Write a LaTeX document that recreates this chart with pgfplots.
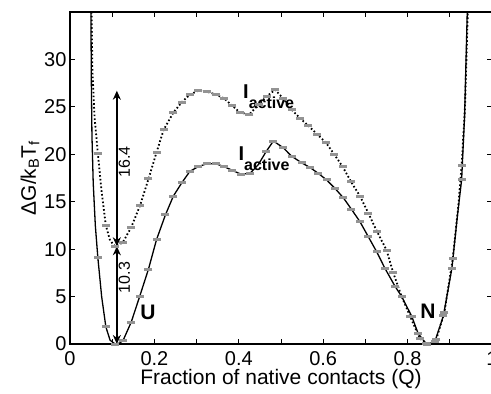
\documentclass[border=0pt]{standalone}
\usepackage{pgfplots}
\pgfplotsset{compat=1.18}
\usepackage{fontspec}
\setmainfont{Liberation Sans}
\usetikzlibrary{arrows.meta}

\begin{document}
\begin{tikzpicture}
\begin{axis}[
 scale only axis, width=422pt, height=332pt,
 xmin=0, xmax=1, ymin=0, ymax=35,
 xtick={0,0.2,0.4,0.6,0.8,1}, minor xtick={0.1,0.3,0.5,0.7,0.9},
 ytick={0,5,10,15,20,25,30},
 tick align=inside, major tick length=5pt, minor tick length=5pt,
 axis line style={line width=1.1pt},
 every tick/.style={line width=1pt, black},
 tick label style={font=\fontsize{20}{24}\selectfont},
 xticklabel style={yshift=-4pt},
 /pgf/number format/assume math mode=true,
 label style={font=\fontsize{21}{25}\selectfont},
 xlabel={Fraction of native contacts (Q)},
 ylabel={ΔG/k\textsubscript{B}T\textsubscript{f}},
 xlabel style={yshift=3pt},
 ylabel style={yshift=-2pt},
]
\coordinate (sw) at (rel axis cs:0,0);
\coordinate (ne) at (rel axis cs:1,1);
% solid curve
\addplot[black, line width=1.3pt, mark=none] coordinates {
(0.0493,37) (0.0505,28) (0.052,22) (0.055,17) (0.060,12.5) (0.066,9.1) (0.075,5.0) (0.085,1.8) (0.095,0.4) (0.107,0) (0.118,0.1) (0.126,0.4) (0.145,2.3) (0.165,5.0) (0.186,7.9) (0.205,11.0) (0.226,13.6) (0.245,15.6) (0.265,17.0) (0.284,18.2) (0.304,18.7) (0.324,19.0) (0.346,19.0) (0.365,18.7) (0.385,18.3) (0.405,17.9) (0.427,18.0) (0.446,18.9) (0.465,20.3) (0.482,21.4) (0.505,20.7) (0.525,19.8) (0.549,19.1) (0.569,18.6) (0.588,18.0) (0.608,17.3) (0.628,16.4) (0.648,15.4) (0.667,14.2) (0.687,12.9) (0.707,11.3) (0.727,9.7) (0.746,8.0) (0.770,6.1) (0.786,5.0) (0.810,2.9) (0.825,1.1) (0.843,0.1) (0.855,0) (0.865,0.3) (0.885,3.0) (0.905,8.0) (0.918,13.5) (0.928,17.3) (0.935,24) (0.9425,37)
};
% dotted curve
\addplot[black, line width=1.8pt, dash pattern=on 1.6pt off 2.2pt, mark=none] coordinates {
(0.0505,37) (0.053,29) (0.058,24) (0.066,20.1) (0.075,16) (0.085,12.5) (0.095,10.9) (0.107,10.3) (0.125,10.7) (0.145,12.3) (0.166,14.6) (0.186,17.4) (0.205,20.2) (0.222,22.6) (0.245,24.4) (0.265,25.5) (0.284,26.3) (0.304,26.7) (0.324,26.6) (0.346,26.3) (0.365,25.9) (0.385,25.1) (0.403,24.4) (0.425,24.2) (0.448,25.3) (0.466,26.1) (0.486,26.8) (0.505,25.9) (0.525,24.7) (0.545,23.8) (0.565,23.0) (0.586,22.1) (0.607,21.2) (0.626,20.0) (0.646,18.7) (0.666,17.1) (0.687,15.6) (0.707,13.8) (0.727,11.9) (0.750,9.9) (0.766,7.5) (0.786,5.0) (0.806,2.9) (0.829,0.6) (0.845,0) (0.858,0.1) (0.868,0.5) (0.887,3.3) (0.907,9.0) (0.920,14.5) (0.928,18.8) (0.936,25) (0.944,37)
};
% error markers, solid
\addplot[only marks, mark=-, mark size=4pt, color=gray!85, mark options={line width=3pt}] coordinates {
(0.066,9.1) (0.085,1.8) (0.107,0) (0.126,0.4) (0.145,2.3) (0.165,5.0) (0.186,7.9) (0.205,11.0) (0.226,13.6) (0.245,15.6) (0.265,17.0) (0.284,18.2) (0.304,18.7) (0.324,19.0) (0.346,19.0) (0.365,18.7) (0.385,18.3) (0.405,17.9) (0.427,18.0) (0.465,20.3) (0.482,21.4) (0.505,20.7) (0.525,19.8) (0.549,19.1) (0.569,18.6) (0.588,18.0) (0.608,17.3) (0.628,16.4) (0.648,15.4) (0.667,14.2) (0.687,12.9) (0.707,11.3) (0.727,9.7) (0.746,8.0) (0.770,6.1) (0.786,5.0) (0.810,2.9) (0.825,1.1) (0.843,0.1) (0.865,0.3) (0.885,3.0) (0.905,8.0) (0.928,17.3)
};
% error markers, dotted
\addplot[only marks, mark=-, mark size=4pt, color=gray!85, mark options={line width=3pt}] coordinates {
(0.066,20.1) (0.085,12.5) (0.107,10.3) (0.125,10.7) (0.145,12.3) (0.166,14.6) (0.186,17.4) (0.205,20.2) (0.222,22.6) (0.245,24.4) (0.265,25.5) (0.284,26.3) (0.304,26.7) (0.324,26.6) (0.346,26.3) (0.365,25.9) (0.385,25.1) (0.403,24.4) (0.425,24.2) (0.448,25.3) (0.466,26.1) (0.486,26.8) (0.505,25.9) (0.525,24.7) (0.545,23.8) (0.565,23.0) (0.586,22.1) (0.607,21.2) (0.626,20.0) (0.646,18.7) (0.666,17.1) (0.687,15.6) (0.707,13.8) (0.727,11.9) (0.750,9.9) (0.766,7.5) (0.786,5.0) (0.806,2.9) (0.829,0.6) (0.845,0) (0.868,0.5) (0.887,3.3) (0.907,9.0) (0.928,18.8)
};
% arrows
\draw[{Stealth[length=9pt,width=8pt]}-{Stealth[length=9pt,width=8pt]}, line width=1.5pt] (axis cs:0.111,0) -- (axis cs:0.111,10.3);
\draw[{Stealth[length=9pt,width=8pt]}-{Stealth[length=9pt,width=8pt]}, line width=1.5pt] (axis cs:0.111,10.3) -- (axis cs:0.111,26.7);
\node[rotate=90, font=\fontsize{16}{18}\selectfont] at (axis cs:0.129,7.0) {10.3};
\node[rotate=90, font=\fontsize{16}{18}\selectfont] at (axis cs:0.129,19.2) {16.4};
\node[font=\fontsize{21}{24}\selectfont\bfseries] at (axis cs:0.185,3.3) {U};
\node[font=\fontsize{21}{24}\selectfont\bfseries] at (axis cs:0.848,3.4) {N};
\node[anchor=base west, inner sep=0pt, font=\fontsize{20}{24}\selectfont\bfseries] at (axis cs:0.410,25.9) {I\raisebox{-10pt}{\fontsize{16}{18}\selectfont active}};
\node[anchor=base west, inner sep=0pt, font=\fontsize{20}{24}\selectfont\bfseries] at (axis cs:0.399,19.3) {I\raisebox{-10pt}{\fontsize{16}{18}\selectfont active}};
\end{axis}
\pgfresetboundingbox
\path ([shift={(-70pt,-49pt)}]sw) rectangle ([shift={(-1pt,12pt)}]ne);
\end{tikzpicture}
\end{document}
